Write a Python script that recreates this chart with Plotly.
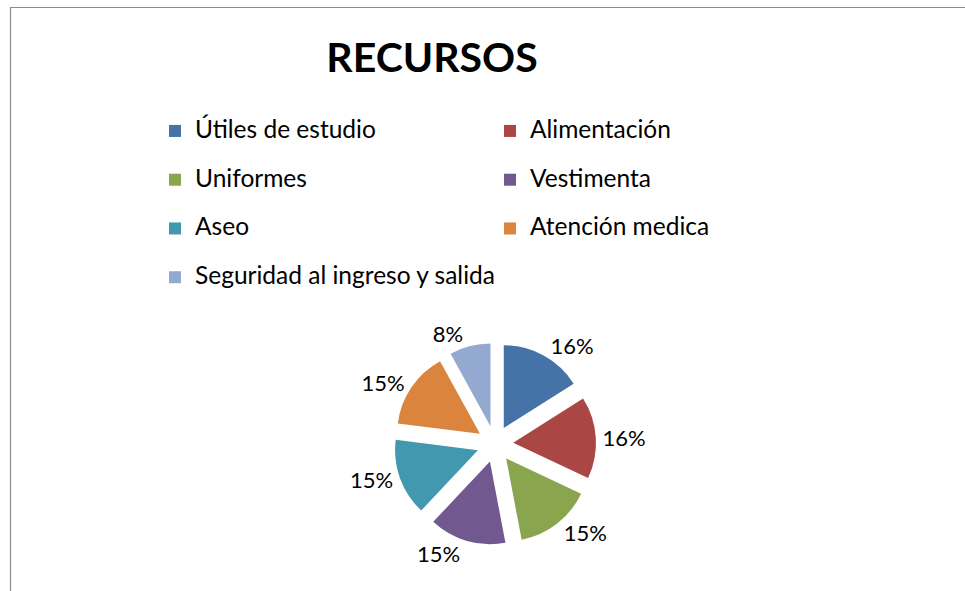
import plotly.graph_objects as go

categories = ["Útiles de estudio", "Alimentación", "Uniformes", "Vestimenta",
              "Aseo", "Atención medica", "Seguridad al ingreso y salida"]
values = [16, 16, 15, 15, 15, 15, 8]
colors = ["#4572A7", "#AA4643", "#89A54E", "#71588F", "#4198AF", "#DB843D", "#93A9CF"]

W, H = 965, 591
FONT = "Lato, 'Noto Sans', sans-serif"

legend_labels = ["<span style='font-size:24.5px'>%s</span><br> " % c for c in categories]

cx, cy, span = 495, 444, 101

fig = go.Figure(go.Pie(
    labels=legend_labels,
    values=values,
    sort=False,
    direction="clockwise",
    rotation=0,
    pull=[0.22] * len(values),
    marker=dict(colors=colors, line=dict(width=0)),
    textinfo="percent",
    texttemplate="%{percent:.0%}",
    textposition="outside",
    textfont=dict(family=FONT, size=22, color="#000000"),
    domain=dict(x=[(cx - span) / W, (cx + span) / W],
                y=[(H - cy - span) / H, (H - cy + span) / H]),
    hoverinfo="skip",
))

fig.update_layout(
    width=W, height=H,
    margin=dict(l=0, r=0, t=0, b=0, autoexpand=False),
    paper_bgcolor="white",
    plot_bgcolor="white",
    font=dict(family=FONT, color="#000000"),
    title=dict(text="<b>RECURSOS</b>", x=432 / W, xanchor="center",
               y=1 - 58 / H, yanchor="middle",
               font=dict(family=FONT, size=41, color="#000000")),
    showlegend=True,
    legend=dict(
        orientation="h",
        x=(169 - 14) / W, xanchor="left",
        y=1 - 113 / H, yanchor="top",
        entrywidth=290,
        valign="top",
        font=dict(family=FONT, size=17.6, color="#000000"),
        bgcolor="rgba(0,0,0,0)",
        traceorder="normal",
    ),
    shapes=[
        dict(type="line", xref="paper", yref="paper", x0=10 / W, x1=1.0,
             y0=1 - 7.5 / H, y1=1 - 7.5 / H, line=dict(color="#8c8c8c", width=1.2)),
        dict(type="line", xref="paper", yref="paper", x0=10.5 / W, x1=10.5 / W,
             y0=0, y1=1 - 7 / H, line=dict(color="#8c8c8c", width=1.2)),
    ],
)

fig.write_html("out.html", config={"displayModeBar": False},
               post_script="document.body.style.margin='0';")
